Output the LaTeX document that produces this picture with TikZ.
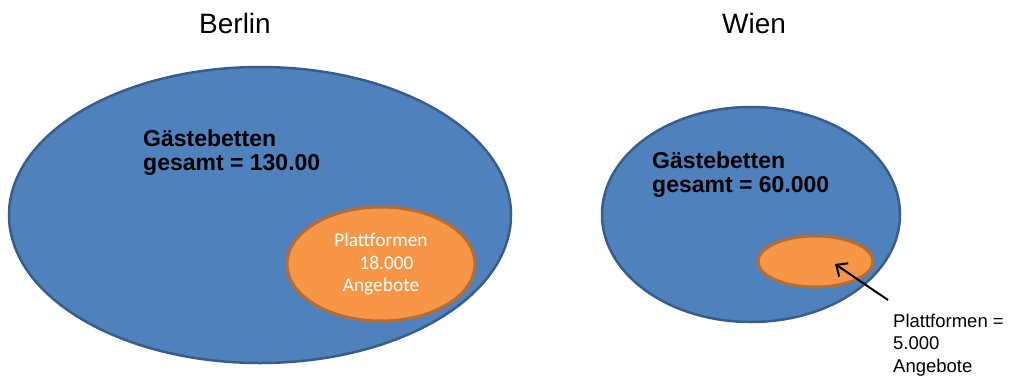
\documentclass[tikz,border=0pt]{standalone}
\usepackage{fontspec}
\setmainfont{Liberation Sans}
\newfontfamily\calibri{Carlito}
\usepackage{xcolor}
\usetikzlibrary{shapes.geometric, arrows.meta, positioning}
\definecolor{cityblue}{HTML}{4F81BD}
\definecolor{cityedge}{HTML}{385D8A}
\definecolor{offerorange}{HTML}{F79646}
\definecolor{offeredge}{HTML}{B66D31}
\tikzstyle{city}  = [ellipse, draw=cityedge, fill=cityblue, line width=2.5pt, inner sep=0pt]
\tikzstyle{offer} = [ellipse, draw=offeredge, fill=offerorange, line width=3pt, inner sep=0pt,
                     text=white, align=center, font=\calibri\fontsize{19.4}{22.5}\selectfont]
\tikzstyle{title} = [anchor=base, font=\fontsize{28}{30}\selectfont]
\tikzstyle{total} = [anchor=base west, align=left, inner sep=0pt, font=\bfseries\fontsize{23}{24}\selectfont]
\tikzstyle{note}  = [anchor=base west, align=left, inner sep=0pt, font=\fontsize{18.5}{22.5}\selectfont]
\tikzstyle{arrow} = [-{Straight Barb[length=9pt, width=16pt]}, line width=2pt]

\begin{document}
\begin{tikzpicture}[x=1pt, y=-1pt]
    \useasboundingbox (0,0) rectangle (1014,378);

    \node (berlinTitle) [title] at (235,33) {Berlin};
    \node (wienTitle) [title] at (754,33) {Wien};

    % Berlin
    \node (berlin) [city, minimum width=502pt, minimum height=296pt] at (260,215) {};
    \node (berlinTotal) [total] at (143,170) {Gästebetten\\gesamt = 130.00};
    \node (berlinOffer) [offer, minimum width=188pt, minimum height=114pt] at (381,264)
        {Plattformen\\\hspace*{11pt}18.000\\Angebote};

    % Wien
    \node (wien) [city, minimum width=298pt, minimum height=215pt] at (751,214.5) {};
    \node (wienTotal) [total] at (652,192) {Gästebetten\\gesamt = 60.000};
    \node (wienOffer) [offer, minimum width=115pt, minimum height=51pt] at (815.5,261.5) {};

    \node (wienNote) [note] at (893,372) {Plattformen =\\5.000\\Angebote};
    \coordinate (wienTail) at (888,300);
    \coordinate (wienTip) at (835,264);
    \draw[arrow] (wienTail) -- (wienTip);
\end{tikzpicture}
\end{document}
